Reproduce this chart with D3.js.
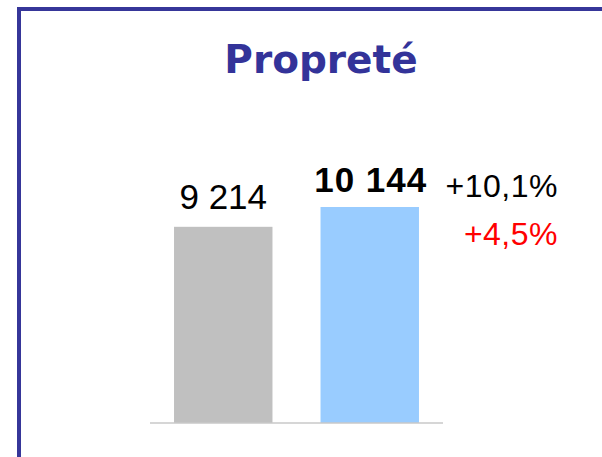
<!DOCTYPE html>
<html>
<head>
<meta charset="utf-8">
<script src="https://cdn.jsdelivr.net/npm/d3@7"></script>
<style>
  body { margin: 0; background: #fff; }
  text { font-family: "Liberation Sans", Arial, sans-serif; }
</style>
</head>
<body>
<div id="chart"></div>
<script>
// data
const categories = ["2009", "2010"];
const values = [9214, 10144];
const barColors = ["#c0c0c0", "#99ccff"];
const title = "Propreté";
const changes = ["+10,1%", "+4,5%"];
const changeColors = ["#000000", "#ff0000"];

const width = 602, height = 457;

const svg = d3.select("#chart")
  .append("svg")
  .attr("width", width)
  .attr("height", height);

// frame (top + left edges)
const frameColor = "#363699";
svg.append("line")
  .attr("x1", 17).attr("x2", width)
  .attr("y1", 9).attr("y2", 9)
  .attr("stroke", frameColor).attr("stroke-width", 4);
svg.append("line")
  .attr("x1", 19).attr("x2", 19)
  .attr("y1", 7).attr("y2", height)
  .attr("stroke", frameColor).attr("stroke-width", 4);

svg.append("text")
  .attr("x", 321)
  .attr("y", 73)
  .attr("text-anchor", "middle")
  .style("font-family", "'DejaVu Sans', sans-serif")
  .style("font-weight", "bold")
  .style("font-size", "39px")
  .style("fill", "#333399")
  .text(title);

const xScale = d3.scaleBand()
  .domain(categories)
  .range([150, 443])
  .paddingInner(0.328)
  .paddingOuter(0.164);

const yScale = d3.scaleLinear()
  .domain([0, d3.max(values)])
  .range([423, 207]);

const fr = d3.formatLocale({decimal: ",", thousands: " ", grouping: [3], currency: ["", " €"]});
const fmt = fr.format(",d");

svg.selectAll(".bar")
  .data(values)
  .enter()
  .append("rect")
  .attr("class", "bar")
  .attr("x", (d, i) => xScale(categories[i]))
  .attr("y", d => yScale(d))
  .attr("width", xScale.bandwidth())
  .attr("height", d => yScale(0) - yScale(d))
  .attr("fill", (d, i) => barColors[i]);

// baseline
svg.append("line")
  .attr("x1", 150).attr("x2", 443)
  .attr("y1", yScale(0)).attr("y2", yScale(0))
  .attr("stroke", "#c8c8c8").attr("stroke-width", 1.5);

svg.selectAll(".val")
  .data(values)
  .enter()
  .append("text")
  .attr("class", "val")
  .attr("x", (d, i) => xScale(categories[i]) + xScale.bandwidth() / 2 + (i == 1 ? 1 : 0))
  .attr("y", (d, i) => yScale(d) - (i == 1 ? 15 : 18))
  .attr("text-anchor", "middle")
  .style("font-size", "35px")
  .style("font-weight", (d, i) => i == 1 ? "bold" : "normal")
  .style("letter-spacing", (d, i) => i == 1 ? "1px" : "0px")
  .style("fill", "#000")
  .text(d => fmt(d));

svg.selectAll(".chg")
  .data(changes)
  .enter()
  .append("text")
  .attr("class", "chg")
  .attr("x", 558)
  .attr("y", (d, i) => 197 + i * 48)
  .attr("text-anchor", "end")
  .style("font-size", "32px")
  .style("letter-spacing", "0.5px")
  .style("fill", (d, i) => changeColors[i])
  .text(d => d);
</script>
</body>
</html>
